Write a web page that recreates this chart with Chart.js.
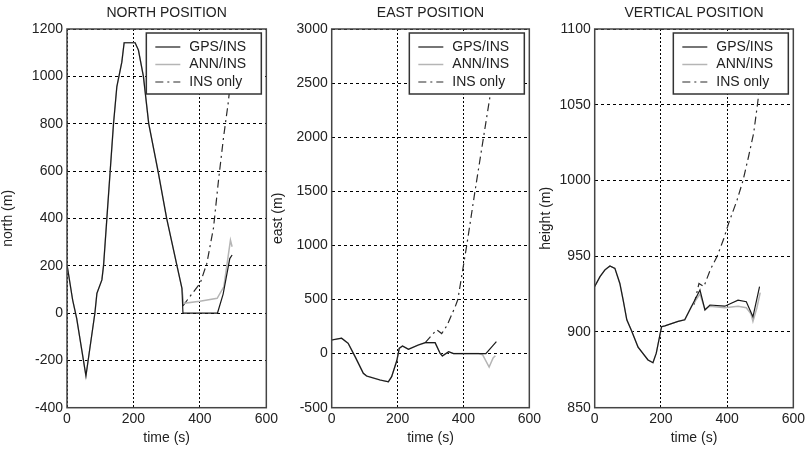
<!DOCTYPE html>
<html>
<head>
<meta charset="utf-8">
<title>Position</title>
<script src="https://cdn.jsdelivr.net/npm/chart.js@4.4.0/dist/chart.umd.min.js"></script>
<style>
  body { margin: 0; background: #fff; }
  #wrap { position: relative; width: 808px; height: 451px; overflow: hidden; }
  #wrap canvas { position: absolute; top: 0; }
</style>
</head>
<body>
<div id="wrap">
  <canvas id="northChart" width="281" height="451" style="left:0px"></canvas>
  <canvas id="eastChart" width="274" height="451" style="left:270px"></canvas>
  <canvas id="vertChart" width="270" height="451" style="left:538px"></canvas>
</div>
<script>
// Posicion norte / este / vertical - GPS/INS vs ANN/INS vs INS only

const timeTicks = [0, 200, 400, 600];

// NORTH
const northGpsTime = [0, 17, 29, 57, 84, 90, 105, 110, 120, 130, 140, 150, 165, 172, 205, 215, 230, 246, 274, 300, 331, 346, 349, 453, 470, 490, 497];
const northGps     = [205, 55, -22, -265, 0, 83, 140, 200, 400, 600, 800, 956, 1060, 1142, 1142, 1111, 1000, 800, 600, 400, 200, 104, 0, 0, 80, 230, 245];
const northAnnTime = [0, 17, 29, 57, 84, 90, 105, 110, 120, 130, 140, 150, 165, 172, 205, 215, 230, 246, 274, 300, 331, 346, 351, 400, 452, 472, 492, 497];
const northAnn     = [205, 55, -22, -265, 0, 83, 140, 200, 400, 600, 800, 956, 1060, 1142, 1142, 1111, 1000, 800, 600, 400, 200, 104, 41, 50, 62, 111, 308, 280];
const northInsTime = [349, 370, 401, 421, 441, 456, 471, 485, 500];
const northIns     = [30, 70, 126, 210, 360, 560, 740, 885, 1080];

// EAST
const eastGpsTime = [0, 30, 50, 71, 96, 106, 147, 172, 182, 198, 205, 215, 233, 263, 284, 314, 329, 336, 355, 370, 446, 468, 500];
const eastGps     = [126, 142, 95, -28, -182, -207, -244, -260, -213, -62, 49, 70, 40, 80, 101, 101, 3, -22, 17, 0, 0, 0, 110];
const eastAnnTime = [0, 30, 50, 71, 96, 106, 147, 172, 182, 198, 205, 215, 233, 263, 284, 314, 329, 336, 355, 370, 446, 458, 478, 490, 497];
const eastAnn     = [126, 142, 95, -28, -182, -207, -244, -260, -213, -62, 49, 70, 40, 80, 101, 101, 3, -22, 17, 0, 0, -10, -124, -40, -20];
const eastInsTime = [284, 300, 319, 334, 350, 375, 383, 410, 435, 461, 487, 500];
const eastIns     = [101, 157, 220, 185, 260, 434, 500, 1000, 1500, 2000, 2500, 2750];

// VERTICAL
const vertGpsTime = [0, 16, 31, 46, 61, 76, 86, 97, 111, 131, 161, 176, 186, 202, 212, 252, 272, 292, 318, 333, 348, 393, 433, 458, 478, 498];
const vertGps     = [930, 936.5, 941, 943.5, 942, 932, 921, 908, 901, 890, 881.5, 879.7, 886, 903.5, 904, 907, 908, 916.7, 927.7, 914.5, 917.8, 917, 921, 920, 910, 930];
const vertAnnTime = [0, 16, 31, 46, 61, 76, 86, 97, 111, 131, 161, 176, 186, 202, 212, 252, 272, 292, 318, 333, 348, 393, 433, 458, 472, 478, 490, 500];
const vertAnn     = [930, 936.5, 941, 943.5, 942, 932, 921, 908, 901, 890, 881.5, 879.7, 886, 903.5, 904, 907, 908, 916.7, 925, 915, 917, 916, 917, 916, 912, 907, 916, 926];
const vertInsTime = [300, 315, 330, 349, 370, 389, 405, 430, 448, 465, 480, 491, 500];
const vertIns     = [918, 932, 930, 941, 950, 961, 972, 987, 1000, 1016, 1031, 1049, 1065];

const FONT = '"Liberation Sans", Arial, Helvetica, sans-serif';
const TEXT_COLOR = '#222';

function toPoints(times, values) {
    return times.map((t, i) => ({ x: t, y: values[i] }));
}

// marco negro alrededor del area del grafico + leyenda con caja
const framePlugin = {
    id: 'frameBox',
    afterDatasetsDraw(chart) {
        const { ctx, chartArea } = chart;
        ctx.save();
        ctx.strokeStyle = '#444';
        ctx.lineWidth = 1.5;
        ctx.strokeRect(chartArea.left, chartArea.top, chartArea.right - chartArea.left, chartArea.bottom - chartArea.top);

        const w = 115, h = 61;
        const x = chartArea.right - w - 5;
        const y = chartArea.top + 4;
        ctx.fillStyle = '#fff';
        ctx.fillRect(x, y, w, h);
        ctx.strokeStyle = '#333';
        ctx.strokeRect(x, y, w, h);
        ctx.font = '14px ' + FONT;
        ctx.textBaseline = 'middle';
        chart.data.datasets.forEach((ds, i) => {
            const ly = y + 14 + i * 17.5;
            ctx.strokeStyle = ds.borderColor;
            ctx.lineWidth = ds.borderWidth;
            ctx.setLineDash(ds.borderDash || []);
            ctx.beginPath();
            ctx.moveTo(x + 9, ly);
            ctx.lineTo(x + 34, ly);
            ctx.stroke();
            ctx.setLineDash([]);
            ctx.fillStyle = TEXT_COLOR;
            ctx.fillText(ds.label, x + 43, ly);
        });
        ctx.restore();
    }
};

function createPositionChart(canvasId, cfg) {
    const canvas = document.getElementById(canvasId);
    if (!canvas) {
        console.error('No se encontró el canvas ' + canvasId);
        return null;
    }
    return new Chart(canvas.getContext('2d'), {
        type: 'line',
        data: {
            datasets: [{
                label: 'GPS/INS',
                data: toPoints(cfg.gpsTime, cfg.gps),
                borderColor: '#1a1a1a',
                borderWidth: 1.2
            }, {
                label: 'ANN/INS',
                data: toPoints(cfg.annTime, cfg.ann),
                borderColor: '#b5b5b5',
                borderWidth: 1.5
            }, {
                label: 'INS only',
                data: toPoints(cfg.insTime, cfg.ins),
                borderColor: '#2a2a2a',
                borderWidth: 1.2,
                borderDash: [8, 4, 2, 4]
            }]
        },
        options: {
            responsive: false,
            animation: false,
            elements: {
                point: { radius: 0 },
                line: { tension: 0, fill: false }
            },
            layout: {
                padding: { top: 0, left: 0, bottom: 0, right: cfg.padRight }
            },
            plugins: {
                legend: { display: false },
                tooltip: { enabled: false },
                title: {
                    display: true,
                    text: cfg.title,
                    fullSize: false,
                    color: TEXT_COLOR,
                    font: { family: FONT, size: 14, weight: 'normal', lineHeight: 1.2 },
                    padding: { top: 4.5, bottom: 7.7 }
                }
            },
            scales: {
                x: {
                    type: 'linear',
                    min: 0,
                    max: 600,
                    afterFit: s => { s.height = 43.3; },
                    afterBuildTicks: s => { s.ticks = timeTicks.map(v => ({ value: v })); },
                    ticks: {
                        color: TEXT_COLOR,
                        padding: 3,
                        maxRotation: 0,
                        autoSkip: false,
                        font: { family: FONT, size: 14 },
                        callback: v => String(v)
                    },
                    grid: { color: '#000', lineWidth: 1, drawTicks: false },
                    border: { display: false, dash: [2, 2] },
                    title: {
                        display: true,
                        text: 'time (s)',
                        color: TEXT_COLOR,
                        font: { family: FONT, size: 14 },
                        padding: { top: 0, bottom: 4 }
                    }
                },
                y: {
                    type: 'linear',
                    min: cfg.yMin,
                    max: cfg.yMax,
                    afterFit: s => { s.width = cfg.axisLeft; },
                    afterBuildTicks: s => { s.ticks = cfg.yTicks.map(v => ({ value: v })); },
                    ticks: {
                        color: TEXT_COLOR,
                        padding: 4,
                        autoSkip: false,
                        font: { family: FONT, size: 14 },
                        callback: v => String(v)
                    },
                    grid: { color: '#000', lineWidth: 1, drawTicks: false },
                    border: { display: false, dash: [3, 3] },
                    title: {
                        display: true,
                        text: cfg.yTitle,
                        color: TEXT_COLOR,
                        font: { family: FONT, size: 14 },
                        padding: { top: 0, bottom: 0 }
                    }
                }
            }
        },
        plugins: [framePlugin]
    });
}

createPositionChart('northChart', {
    title: 'NORTH POSITION', yTitle: 'north (m)',
    yMin: -400, yMax: 1200, yTicks: [-400, -200, 0, 200, 400, 600, 800, 1000, 1200],
    axisLeft: 67, padRight: 14.5,
    gpsTime: northGpsTime, gps: northGps,
    annTime: northAnnTime, ann: northAnn,
    insTime: northInsTime, ins: northIns
});

createPositionChart('eastChart', {
    title: 'EAST POSITION', yTitle: 'east (m)',
    yMin: -500, yMax: 3000, yTicks: [-500, 0, 500, 1000, 1500, 2000, 2500, 3000],
    axisLeft: 61.7, padRight: 14,
    gpsTime: eastGpsTime, gps: eastGps,
    annTime: eastAnnTime, ann: eastAnn,
    insTime: eastInsTime, ins: eastIns
});

createPositionChart('vertChart', {
    title: 'VERTICAL POSITION', yTitle: 'height (m)',
    yMin: 850, yMax: 1100, yTicks: [850, 900, 950, 1000, 1050, 1100],
    axisLeft: 56.7, padRight: 14.5,
    gpsTime: vertGpsTime, gps: vertGps,
    annTime: vertAnnTime, ann: vertAnn,
    insTime: vertInsTime, ins: vertIns
});
</script>
</body>
</html>
